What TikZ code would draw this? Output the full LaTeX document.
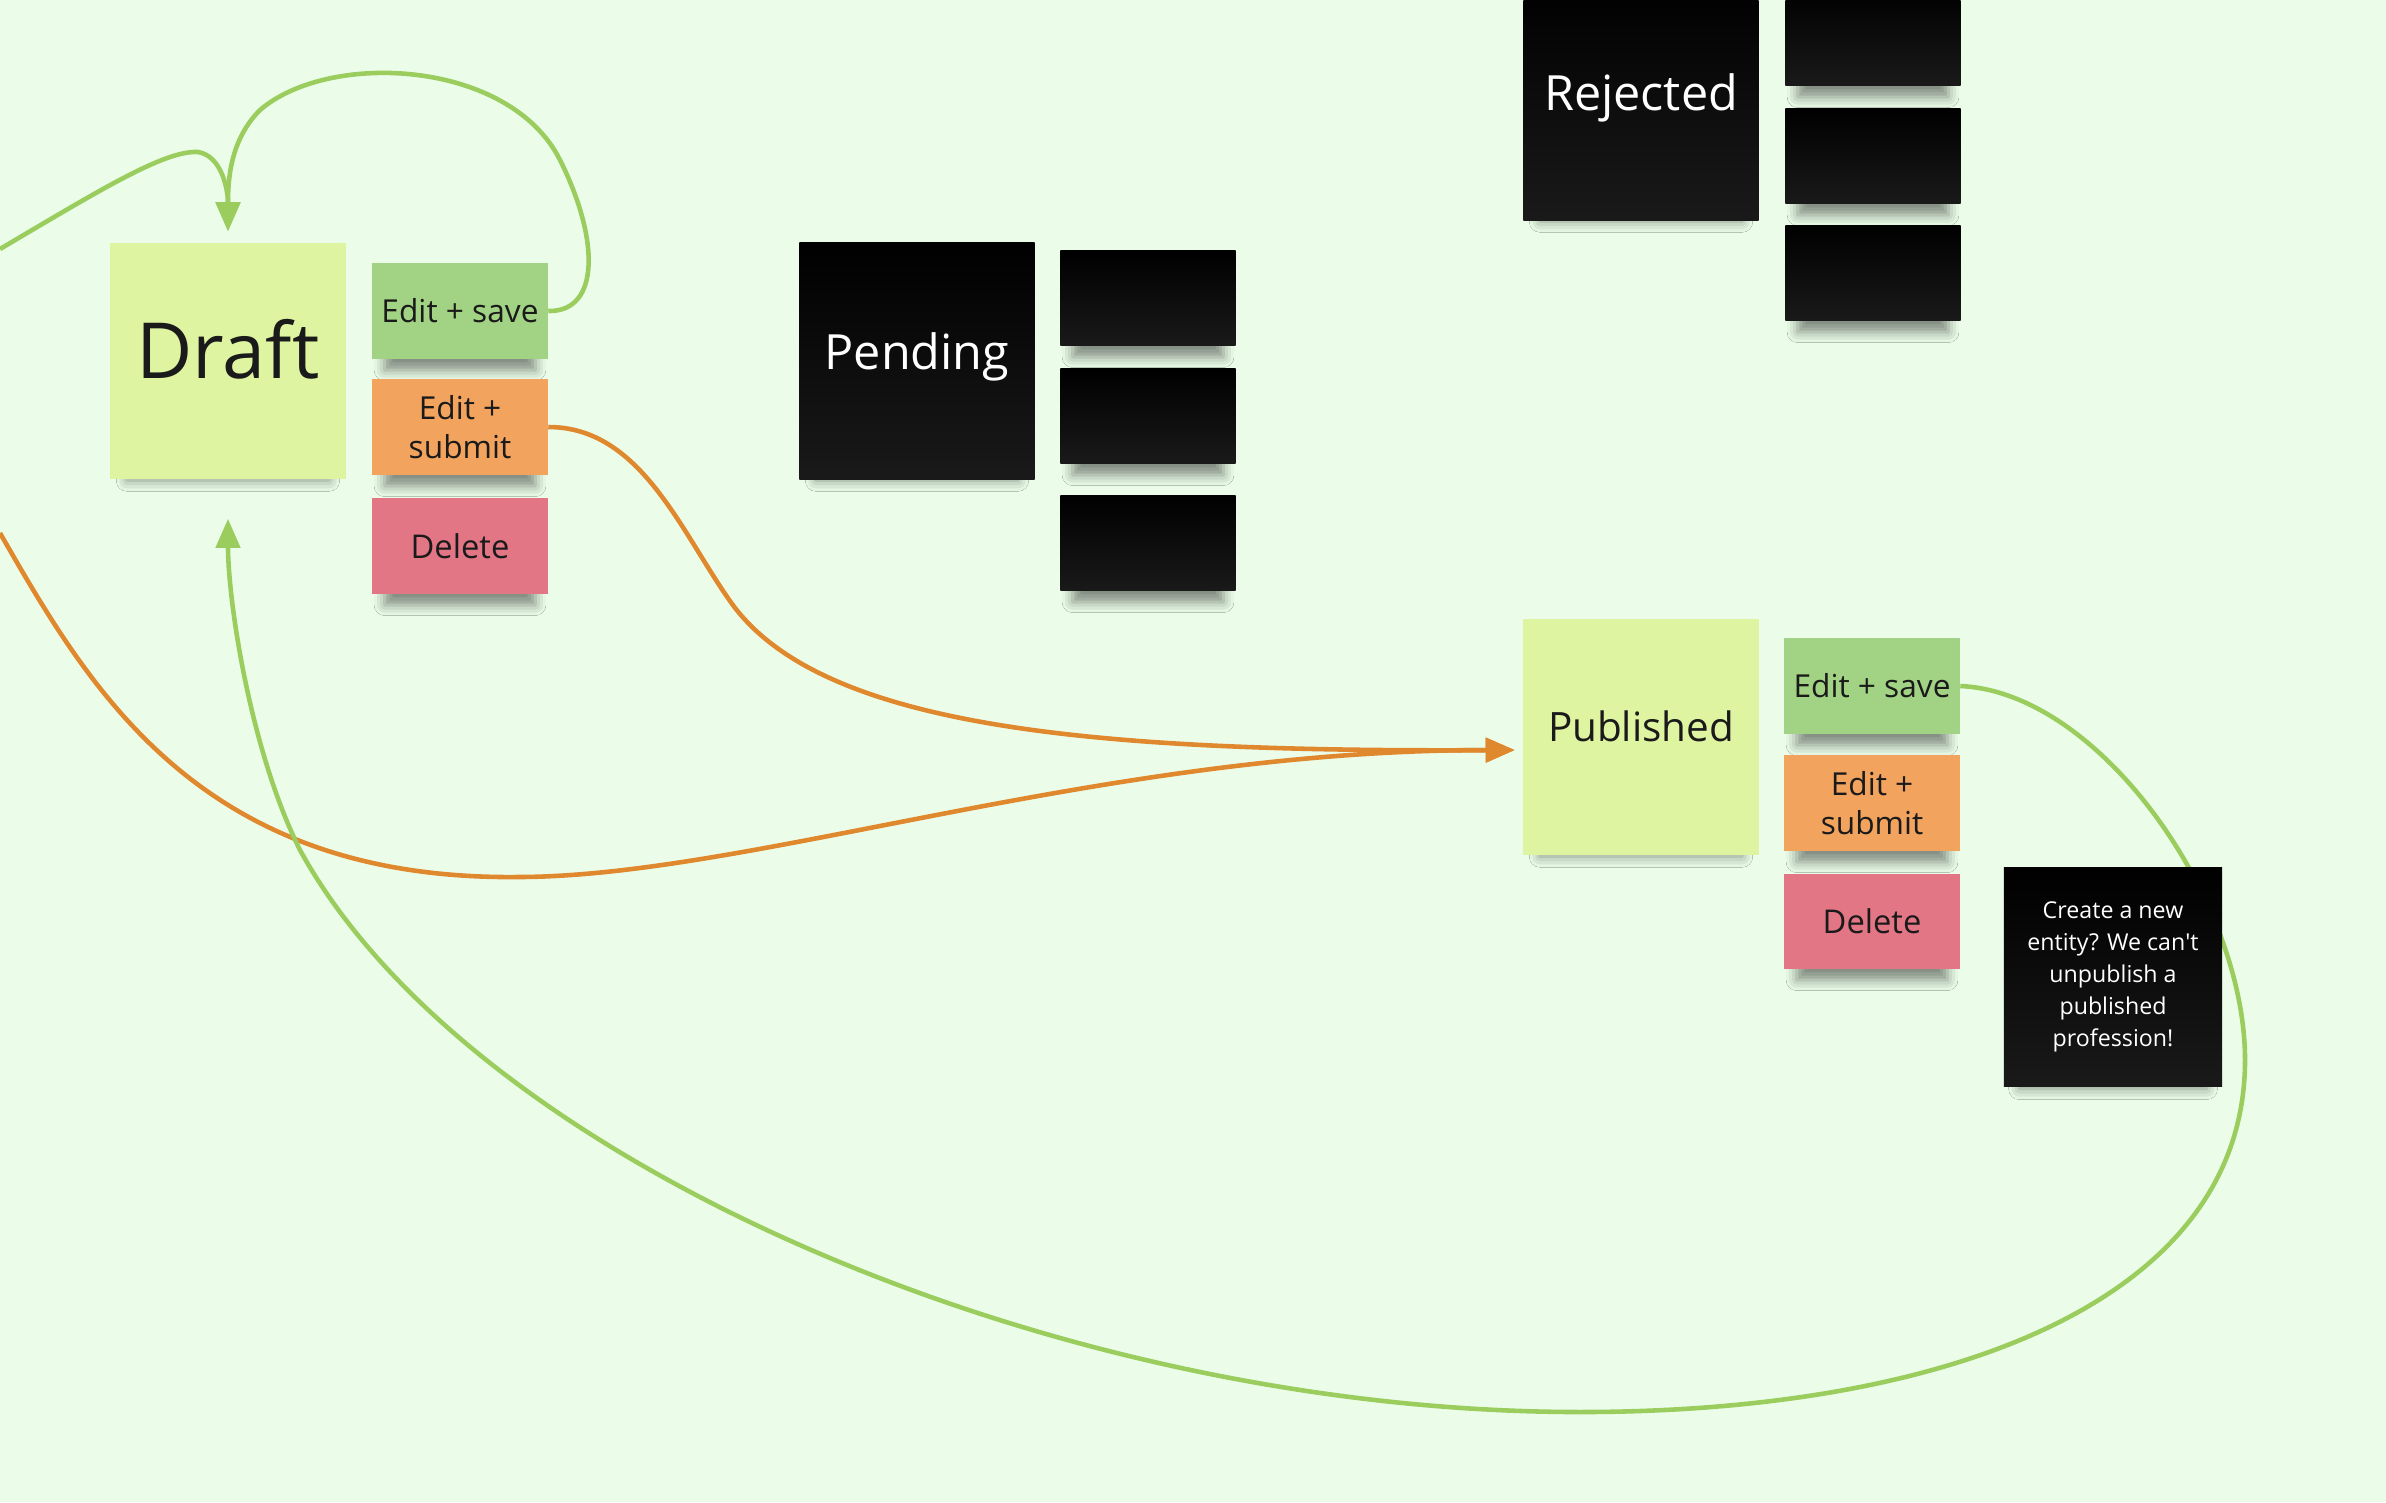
\documentclass[tikz,border=0pt]{standalone}
\usepackage{fontspec}
\setmainfont{Open Sans}
\usetikzlibrary{arrows.meta,shadows.blur,backgrounds}
\definecolor{boardbg}{HTML}{EBFDE9}
\definecolor{draftyellow}{HTML}{DFF4A1}
\definecolor{savegreen}{HTML}{A2D283}
\definecolor{submitorange}{HTML}{F2A35E}
\definecolor{deletepink}{HTML}{E27685}
\definecolor{linegreen}{HTML}{9ACD5E}
\definecolor{lineorange}{HTML}{E0882E}
\definecolor{inkdark}{HTML}{1A1A1A}

\begin{document}
\begin{tikzpicture}[x=0.01cm,y=-0.01cm,
    sticky/.style={inner sep=0pt,align=center,text=inkdark,
      blur shadow={shadow scale=0.86,shadow xshift=0pt,shadow yshift=-6pt,shadow opacity=45,shadow blur radius=3.5pt}},
    bignote/.style={sticky,minimum width=23.5mm,minimum height=23.6mm},
    smallnote/.style={sticky,minimum width=17.5mm,minimum height=9.5mm,font=\fontsize{9}{11.2}\selectfont},
    darknote/.style={top color=black,bottom color=black!90!white,text=white},
    flowgreen/.style={draw=linegreen,line width=1.3pt,-{Triangle[length=2.9mm,width=2.4mm]}},
    floworange/.style={draw=lineorange,line width=1.3pt,-{Triangle[length=2.9mm,width=2.4mm]}}]
    \useasboundingbox (0,0) rectangle (2386,1502);

    \node[bignote,fill=draftyellow,text depth=7pt,font=\fontsize{22}{26}\selectfont] (draft) at (228,361) {Draft};
    \node[smallnote,fill=savegreen] (dsave) at (460,311) {Edit + save};
    \node[smallnote,fill=submitorange] (dsubmit) at (460,427) {Edit +\\submit};
    \node[smallnote,fill=deletepink,font=\fontsize{9.3}{11}\selectfont] (ddelete) at (460,546) {Delete};

    \node[bignote,darknote,text depth=5.5pt,font=\fontsize{13.8}{16}\selectfont] (pending) at (917,361) {Pending};
    \node[smallnote,darknote] (pa) at (1148,298) {};
    \node[smallnote,darknote] (pb) at (1148,416) {};
    \node[smallnote,darknote] (pc) at (1148,543) {};

    \node[bignote,darknote,text depth=5.5pt,font=\fontsize{13.8}{16}\selectfont] (rejected) at (1641,102) {Rejected};
    \node[smallnote,darknote] (ra) at (1873,38) {};
    \node[smallnote,darknote] (rb) at (1873,156) {};
    \node[smallnote,darknote] (rc) at (1873,273) {};

    \node[bignote,fill=draftyellow,text depth=6pt,font=\fontsize{11.5}{14}\selectfont] (published) at (1641,737) {Published};
    \node[smallnote,fill=savegreen] (psave) at (1872,686) {Edit + save};
    \node[smallnote,fill=submitorange] (psubmit) at (1872,803) {Edit +\\submit};
    \node[smallnote,fill=deletepink,font=\fontsize{9.3}{11}\selectfont] (pdelete) at (1872,921) {Delete};
    \node[sticky,darknote,minimum width=21.8mm,minimum height=21.8mm,font=\fontsize{6.6}{9.1}\selectfont] (note) at (2113,977)
        {Create a new\\entity? We can\textquotesingle t\\unpublish a\\published\\profession!};

    \coordinate (gin) at (0,249);
    \coordinate (oin) at (0,533);

    \begin{pgfonlayer}{background}
    \fill[boardbg] (0,0) rectangle (2386,1502);
    \draw[flowgreen,shorten >=1.1mm] (dsave.east) .. controls (600,312) and (600,240) .. (560,160) .. controls (510,60) and (330,50) .. (260,110) .. controls (230,140) and (228,180) .. (draft.north);
    \draw[flowgreen,shorten >=1.1mm] (gin) .. controls (100,190) and (165,150) .. (198,152) .. controls (222,156) and (228,190) .. (draft.north);
    \draw[floworange,shorten >=0.8mm] (dsubmit.east) .. controls (640,427) and (680,530) .. (730,601) .. controls (820,730) and (1100,752) .. ([yshift=-3.7pt]published.west);
    \draw[floworange,shorten >=0.8mm] (oin) .. controls (90,690) and (200,880) .. (517,877) .. controls (750,877) and (1100,750) .. ([yshift=-3.7pt]published.west);
    \draw[flowgreen,shorten >=3.9mm] (psave.east) .. controls (2100,692) and (2245,900) .. (2245,1060) .. controls (2245,1300) and (1950,1412) .. (1580,1412) .. controls (1050,1412) and (470,1160) .. (300,850) .. controls (250,750) and (228,600) .. (draft.south);
    \end{pgfonlayer}
\end{tikzpicture}
\end{document}
